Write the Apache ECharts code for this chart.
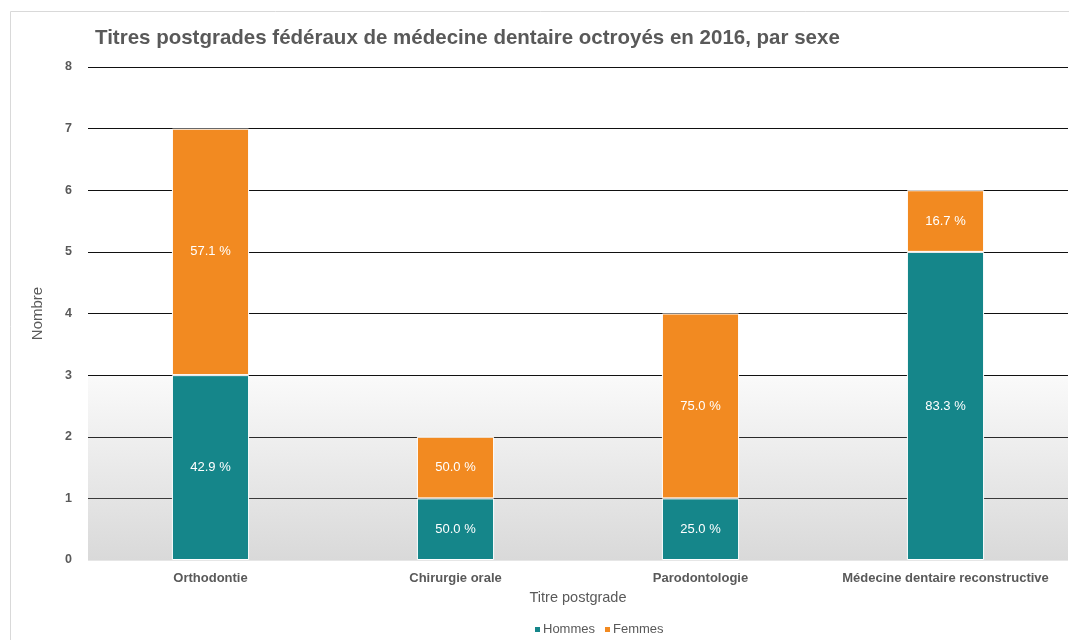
<!DOCTYPE html>
<html>
<head>
<meta charset="utf-8">
<script src="https://cdn.jsdelivr.net/npm/echarts@6/dist/echarts.min.js"></script>
<style>
  html, body { margin: 0; padding: 0; background: #fff; }
  #chart { width: 1069px; height: 640px; }
</style>
</head>
<body>
<div id="chart"></div>
<script>
const categories = ['Orthodontie', 'Chirurgie orale', 'Parodontologie', 'Médecine dentaire reconstructive'];
const hommes = [3, 1, 1, 5];
const femmes = [4, 1, 3, 1];

const totals = categories.map((c, i) => hommes[i] + femmes[i]);
const pctLabel = (p) => (p.value / totals[p.dataIndex] * 100).toFixed(1) + ' %';
const textGray = '#595959';
const font = 'Liberation Sans, Arial, sans-serif';

const chart = echarts.init(document.getElementById('chart'), null, { renderer: 'canvas' });

const barSeries = (name, data, color) => ({
    name,
    type: 'bar',
    stack: 'total',
    barWidth: '31.5%',
    data,
    itemStyle: { color, borderColor: '#fff', borderWidth: 1 },
    label: {
        show: true,
        position: 'inside',
        color: '#fff',
        fontSize: 13,
        fontFamily: font,
        formatter: pctLabel
    }
});

chart.setOption({
    animation: false,
    graphic: [{
        type: 'rect',
        left: 8,
        top: 9,
        shape: { width: 1100, height: 700 },
        style: { fill: 'none', stroke: '#d9d9d9', lineWidth: 1 },
        z: -1
    }],
    title: {
        text: 'Titres postgrades fédéraux de médecine dentaire octroyés en 2016, par sexe',
        left: 90,
        top: 23,
        textStyle: { color: textGray, fontSize: 20.5, fontWeight: 'bold', fontFamily: font }
    },
    legend: {
        top: 618,
        left: 528,
        icon: 'rect',
        itemWidth: 7,
        itemHeight: 7,
        itemGap: 8,
        textStyle: { color: textGray, fontSize: 13, fontFamily: font, padding: [0, 0, 0, -3] },
        data: ['Hommes', 'Femmes']
    },
    grid: {
        left: 88,
        right: 1,
        top: 67,
        bottom: 80,
        show: true,
        borderWidth: 0,
        backgroundColor: {
            type: 'linear', x: 0, y: 0, x2: 0, y2: 1,
            colorStops: [
                { offset: 0, color: '#ffffff' },
                { offset: 0.625, color: '#ffffff' },
                { offset: 0.626, color: '#fafafa' },
                { offset: 1, color: '#d9d9d9' }
            ]
        }
    },
    xAxis: {
        type: 'category',
        data: categories,
        name: 'Titre postgrade',
        nameLocation: 'middle',
        nameGap: 30,
        nameTextStyle: { color: textGray, fontSize: 14.5, fontFamily: font },
        axisLine: { show: false },
        axisTick: { show: false },
        axisLabel: { interval: 0, color: textGray, fontSize: 13, fontWeight: 'bold', fontFamily: font, margin: 12 }
    },
    yAxis: {
        type: 'value',
        min: 0,
        max: 8,
        interval: 1,
        z: 1.5,
        name: 'Nombre',
        nameLocation: 'middle',
        nameGap: 43,
        nameTextStyle: { color: textGray, fontSize: 15, fontFamily: font },
        axisLine: { show: false },
        axisTick: { show: false },
        axisLabel: { color: textGray, fontSize: 12.5, fontWeight: 'bold', fontFamily: font, margin: 16 },
        splitLine: {
            lineStyle: {
                color: ['#e6e6e6', '#3a3a3a', '#2a2a2a', '#111', '#111', '#111', '#111', '#111', '#111'],
                width: 1
            }
        }
    },
    series: [
        barSeries('Hommes', hommes, '#15868a'),
        barSeries('Femmes', femmes, '#f28a21')
    ]
});
</script>
</body>
</html>
